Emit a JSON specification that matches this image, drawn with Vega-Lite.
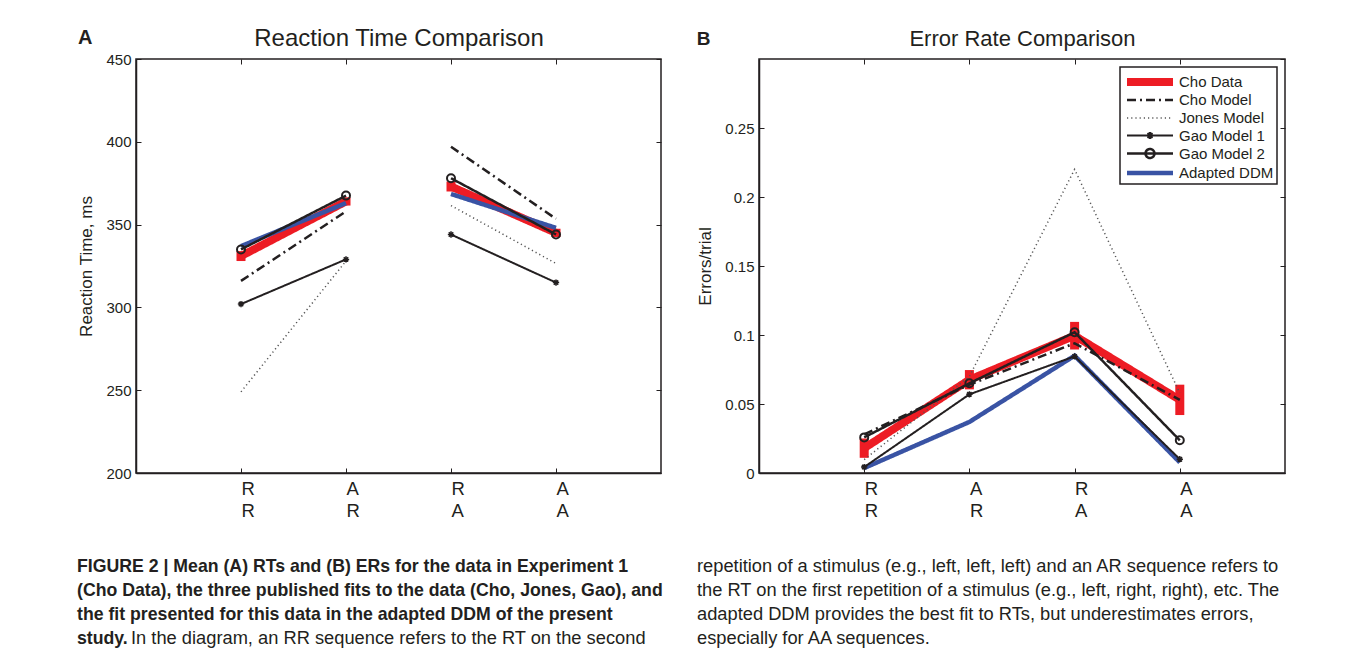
{
  "$schema": "https://vega.github.io/schema/vega-lite/v6.json",
  "background": "white",
  "padding": {"left": 77, "top": 25, "right": 0, "bottom": 0},
  "config": {
    "font": "Liberation Sans",
    "view": {"stroke": "#231f20", "strokeWidth": 1.5},
    "axis": {"grid": false, "domainColor": "#231f20", "domainWidth": 1.5, "tickColor": "#231f20", "tickWidth": 1, "tickSize": -5, "labelColor": "#231f20", "titleColor": "#231f20", "titleFontWeight": "normal"},
    "legend": {"strokeWidth": 1.5},
    "title": {"color": "#231f20"}
  },
  "datasets": {
    "rt": [
      {"series": "Cho Data", "cond": 1, "pair": "a", "v": 331, "lo": 328, "hi": 334},
      {"series": "Cho Data", "cond": 2, "pair": "a", "v": 364, "lo": 361.5, "hi": 366.5},
      {"series": "Cho Data", "cond": 3, "pair": "b", "v": 373, "lo": 370, "hi": 376},
      {"series": "Cho Data", "cond": 4, "pair": "b", "v": 345, "lo": 342.5, "hi": 347.5},
      {"series": "Adapted DDM", "cond": 1, "pair": "a", "v": 337},
      {"series": "Adapted DDM", "cond": 2, "pair": "a", "v": 363},
      {"series": "Adapted DDM", "cond": 3, "pair": "b", "v": 368.5},
      {"series": "Adapted DDM", "cond": 4, "pair": "b", "v": 348},
      {"series": "Cho Model", "cond": 1, "pair": "a", "v": 316},
      {"series": "Cho Model", "cond": 2, "pair": "a", "v": 358},
      {"series": "Cho Model", "cond": 3, "pair": "b", "v": 397},
      {"series": "Cho Model", "cond": 4, "pair": "b", "v": 353.5},
      {"series": "Jones Model", "cond": 1, "pair": "a", "v": 249},
      {"series": "Jones Model", "cond": 2, "pair": "a", "v": 328},
      {"series": "Jones Model", "cond": 3, "pair": "b", "v": 361.5},
      {"series": "Jones Model", "cond": 4, "pair": "b", "v": 326.5},
      {"series": "Gao Model 1", "cond": 1, "pair": "a", "v": 302},
      {"series": "Gao Model 1", "cond": 2, "pair": "a", "v": 329},
      {"series": "Gao Model 1", "cond": 3, "pair": "b", "v": 344},
      {"series": "Gao Model 1", "cond": 4, "pair": "b", "v": 315},
      {"series": "Gao Model 2", "cond": 1, "pair": "a", "v": 335},
      {"series": "Gao Model 2", "cond": 2, "pair": "a", "v": 367.5},
      {"series": "Gao Model 2", "cond": 3, "pair": "b", "v": 378},
      {"series": "Gao Model 2", "cond": 4, "pair": "b", "v": 344}
    ],
    "er": [
      {"series": "Cho Data", "cond": 1, "v": 0.018, "lo": 0.011, "hi": 0.025},
      {"series": "Cho Data", "cond": 2, "v": 0.0676, "lo": 0.0606, "hi": 0.0746},
      {"series": "Cho Data", "cond": 3, "v": 0.0995, "lo": 0.0895, "hi": 0.1095},
      {"series": "Cho Data", "cond": 4, "v": 0.053, "lo": 0.042, "hi": 0.064},
      {"series": "Adapted DDM", "cond": 1, "v": 0.0036},
      {"series": "Adapted DDM", "cond": 2, "v": 0.037},
      {"series": "Adapted DDM", "cond": 3, "v": 0.085},
      {"series": "Adapted DDM", "cond": 4, "v": 0.0077},
      {"series": "Cho Model", "cond": 1, "v": 0.028},
      {"series": "Cho Model", "cond": 2, "v": 0.064},
      {"series": "Cho Model", "cond": 3, "v": 0.094},
      {"series": "Cho Model", "cond": 4, "v": 0.053},
      {"series": "Jones Model", "cond": 1, "v": 0.0097},
      {"series": "Jones Model", "cond": 2, "v": 0.07},
      {"series": "Jones Model", "cond": 3, "v": 0.22},
      {"series": "Jones Model", "cond": 4, "v": 0.058},
      {"series": "Gao Model 1", "cond": 1, "v": 0.0043},
      {"series": "Gao Model 1", "cond": 2, "v": 0.057},
      {"series": "Gao Model 1", "cond": 3, "v": 0.0845},
      {"series": "Gao Model 1", "cond": 4, "v": 0.010},
      {"series": "Gao Model 2", "cond": 1, "v": 0.0258},
      {"series": "Gao Model 2", "cond": 2, "v": 0.065},
      {"series": "Gao Model 2", "cond": 3, "v": 0.102},
      {"series": "Gao Model 2", "cond": 4, "v": 0.0237}
    ],
    "cap": [
      {"col": 0, "line": 1, "style": "b", "text": "FIGURE 2 | Mean (A) RTs and (B) ERs for the data in Experiment 1"},
      {"col": 0, "line": 2, "style": "b", "text": "(Cho Data), the three published fits to the data (Cho, Jones, Gao), and"},
      {"col": 0, "line": 3, "style": "b", "text": "the fit presented for this data in the adapted DDM of the present"},
      {"col": 0, "line": 4, "style": "b", "text": "study."},
      {"col": 0, "line": 4, "style": "n2", "text": "In the diagram, an RR sequence refers to the RT on the second"},
      {"col": 1, "line": 1, "style": "n", "text": "repetition of a stimulus (e.g., left, left, left) and an AR sequence refers to"},
      {"col": 1, "line": 2, "style": "n", "text": "the RT on the first repetition of a stimulus (e.g., left, right, right), etc. The"},
      {"col": 1, "line": 3, "style": "n", "text": "adapted DDM provides the best fit to RTs, but underestimates errors,"},
      {"col": 1, "line": 4, "style": "n", "text": "especially for AA sequences."}
    ]
  },
  "spacing": 36,
  "vconcat": [
    {
      "hconcat": [
        {
          "width": 525,
          "height": 414,
          "title": {"text": "A", "anchor": "start", "frame": "bounds", "fontSize": 20, "fontWeight": "bold", "dy": 25},
          "data": {"name": "rt"},
          "layer": [
            {
              "transform": [{"filter": "datum.series === 'Cho Data'"}],
              "mark": {"type": "rule", "color": "#ED1C24", "strokeWidth": 9},
              "encoding": {
                "x": {"field": "cond", "type": "quantitative", "scale": {"domain": [0, 5], "nice": false, "zero": false}, "axis": null},
                "y": {"field": "lo", "type": "quantitative", "scale": {"domain": [200, 450], "nice": false, "zero": false}, "axis": null},
                "y2": {"field": "hi"}
              }
            },
            {
              "mark": {"type": "line"},
              "encoding": {
                "x": {"field": "cond", "type": "quantitative",
                  "axis": {"orient": "bottom", "values": [1, 2, 3, 4], "title": null, "labelAlign": "left", "labelBaseline": "top", "labelFontSize": 18.5, "labelLineHeight": 22, "labelPadding": 11,
                    "labelExpr": "datum.value == 1 ? ['R','R'] : datum.value == 2 ? ['A','R'] : datum.value == 3 ? ['R','A'] : ['A','A']"}},
                "y": {"field": "v", "type": "quantitative",
                  "axis": {"orient": "left", "values": [200, 250, 300, 350, 400, 450], "title": "Reaction Time, ms", "titleFontSize": 17, "titlePadding": 10, "labelFontSize": 15, "labelPadding": 10}},
                "detail": {"field": "pair"},
                "color": {"field": "series", "type": "nominal", "legend": null,
                  "scale": {"domain": ["Cho Data", "Cho Model", "Jones Model", "Gao Model 1", "Gao Model 2", "Adapted DDM"], "range": ["#ED1C24", "#231f20", "#555555", "#231f20", "#231f20", "#3953A4"]}},
                "strokeDash": {"field": "series", "type": "nominal", "legend": null,
                  "scale": {"domain": ["Cho Data", "Cho Model", "Jones Model", "Gao Model 1", "Gao Model 2", "Adapted DDM"], "range": [[1, 0], [9, 4, 2, 4], [1.2, 3], [1, 0], [1, 0], [1, 0]]}},
                "strokeWidth": {"field": "series", "type": "nominal", "legend": null,
                  "scale": {"type": "ordinal", "domain": ["Cho Data", "Cho Model", "Jones Model", "Gao Model 1", "Gao Model 2", "Adapted DDM"], "range": [8, 2.5, 1.5, 2, 2.5, 4.5]}}
              }
            },
            {
              "transform": [{"filter": "datum.series === 'Gao Model 1'"}],
              "mark": {"type": "point", "shape": "M-1,0L1,0M0,-1L0,1M-0.7,-0.7L0.7,0.7M-0.7,0.7L0.7,-0.7", "size": 40, "filled": false, "color": "#231f20", "strokeWidth": 1.5, "opacity": 1},
              "encoding": {
                "x": {"field": "cond", "type": "quantitative", "axis": null},
                "y": {"field": "v", "type": "quantitative", "axis": null}
              }
            },
            {
              "transform": [{"filter": "datum.series === 'Gao Model 2'"}],
              "mark": {"type": "point", "shape": "circle", "size": 64, "filled": false, "color": "#231f20", "strokeWidth": 2, "opacity": 1},
              "encoding": {
                "x": {"field": "cond", "type": "quantitative",
                  "axis": {"orient": "top", "values": [1, 2, 3, 4], "labels": false, "domain": false, "title": "Reaction Time Comparison", "titleFontSize": 24, "titlePadding": 8}},
                "y": {"field": "v", "type": "quantitative",
                  "axis": {"orient": "right", "values": [200, 250, 300, 350, 400, 450], "labels": false, "domain": false, "title": null}}
              }
            }
          ],
          "resolve": {"axis": {"x": "independent", "y": "independent"}}
        },
        {
          "width": 526,
          "height": 414,
          "title": {"text": "B", "anchor": "start", "frame": "bounds", "fontSize": 19, "fontWeight": "bold", "dy": 25},
          "data": {"name": "er"},
          "layer": [
            {
              "transform": [{"filter": "datum.series === 'Cho Data'"}],
              "mark": {"type": "rule", "color": "#ED1C24", "strokeWidth": 9},
              "encoding": {
                "x": {"field": "cond", "type": "quantitative", "scale": {"domain": [0, 5], "nice": false, "zero": false}, "axis": null},
                "y": {"field": "lo", "type": "quantitative", "scale": {"domain": [0, 0.3], "nice": false, "zero": false}, "axis": null},
                "y2": {"field": "hi"}
              }
            },
            {
              "mark": {"type": "line"},
              "encoding": {
                "x": {"field": "cond", "type": "quantitative",
                  "axis": {"orient": "bottom", "values": [1, 2, 3, 4], "title": null, "labelAlign": "left", "labelBaseline": "top", "labelFontSize": 18.5, "labelLineHeight": 22, "labelPadding": 11,
                    "labelExpr": "datum.value == 1 ? ['R','R'] : datum.value == 2 ? ['A','R'] : datum.value == 3 ? ['R','A'] : ['A','A']"}},
                "y": {"field": "v", "type": "quantitative",
                  "axis": {"orient": "left", "values": [0, 0.05, 0.1, 0.15, 0.2, 0.25], "format": "~g", "title": "Errors/trial", "titleFontSize": 17, "titlePadding": 10, "labelFontSize": 15, "labelPadding": 10}},
                "color": {"field": "series", "type": "nominal",
                  "scale": {"domain": ["Cho Data", "Cho Model", "Jones Model", "Gao Model 1", "Gao Model 2", "Adapted DDM"], "range": ["#ED1C24", "#231f20", "#555555", "#231f20", "#231f20", "#3953A4"]},
                  "legend": {"title": null, "orient": "top-right", "offset": 8, "padding": 3, "strokeColor": "#231f20", "fillColor": "white", "symbolSize": 256, "labelFontSize": 15, "labelOffset": 32, "rowPadding": 0.5, "labelColor": "#231f20",
                    "encode": {"symbols": {"update": {
                      "shape": {"signal": "datum.value === 'Gao Model 1' ? 'M-1,0H4.75M1.44,0H2.31M1.875,-0.44V0.44M1.57,-0.31L2.18,0.31M1.57,0.31L2.18,-0.31' : datum.value === 'Gao Model 2' ? 'M-1,0H4.75M1.3125,0a0.5625,0.5625 0 1,0 1.125,0a0.5625,0.5625 0 1,0 -1.125,0' : 'M-1,0H4.75'"},
                      "strokeJoin": {"value": "bevel"},
                      "strokeWidth": {"signal": "datum.value === 'Cho Data' ? 8 : datum.value === 'Adapted DDM' ? 4.5 : datum.value === 'Jones Model' ? 1.5 : 2.5"}}}}}},
                "strokeDash": {"field": "series", "type": "nominal",
                  "scale": {"domain": ["Cho Data", "Cho Model", "Jones Model", "Gao Model 1", "Gao Model 2", "Adapted DDM"], "range": [[1, 0], [9, 4, 2, 4], [1.2, 3], [1, 0], [1, 0], [1, 0]]},
                  "legend": {"title": null, "orient": "top-right", "offset": 8, "padding": 3, "strokeColor": "#231f20", "fillColor": "white", "symbolSize": 256, "labelFontSize": 15, "labelOffset": 32, "rowPadding": 0.5, "labelColor": "#231f20"}},
                "strokeWidth": {"field": "series", "type": "nominal", "legend": null,
                  "scale": {"type": "ordinal", "domain": ["Cho Data", "Cho Model", "Jones Model", "Gao Model 1", "Gao Model 2", "Adapted DDM"], "range": [8, 2.5, 1.5, 2, 2.5, 4.5]}}
              }
            },
            {
              "transform": [{"filter": "datum.series === 'Gao Model 1'"}],
              "mark": {"type": "point", "shape": "M-1,0L1,0M0,-1L0,1M-0.7,-0.7L0.7,0.7M-0.7,0.7L0.7,-0.7", "size": 40, "filled": false, "color": "#231f20", "strokeWidth": 1.5, "opacity": 1},
              "encoding": {
                "x": {"field": "cond", "type": "quantitative", "axis": null},
                "y": {"field": "v", "type": "quantitative", "axis": null}
              }
            },
            {
              "transform": [{"filter": "datum.series === 'Gao Model 2'"}],
              "mark": {"type": "point", "shape": "circle", "size": 64, "filled": false, "color": "#231f20", "strokeWidth": 2, "opacity": 1},
              "encoding": {
                "x": {"field": "cond", "type": "quantitative",
                  "axis": {"orient": "top", "values": [1, 2, 3, 4], "labels": false, "domain": false, "title": "Error Rate Comparison", "titleFontSize": 22, "titlePadding": 8}},
                "y": {"field": "v", "type": "quantitative",
                  "axis": {"orient": "right", "values": [0, 0.05, 0.1, 0.15, 0.2, 0.25, 0.3], "labels": false, "domain": false, "title": null}}
              }
            }
          ],
          "resolve": {"axis": {"x": "independent", "y": "independent"}}
        }
      ],
      "spacing": 33,
      "resolve": {
        "scale": {"color": "independent", "strokeDash": "independent", "strokeWidth": "independent"},
        "legend": {"color": "independent", "strokeDash": "independent", "strokeWidth": "independent"}
      }
    },
    {
      "width": 620,
      "height": 72,
      "data": {"name": "cap"},
      "encoding": {
        "x": {"field": "col", "type": "quantitative", "scale": {"domain": [0.09516, 1.09516], "nice": false, "zero": false}, "axis": null},
        "y": {"field": "line", "type": "quantitative", "scale": {"domain": [4, 1], "nice": false, "zero": false}, "axis": null},
        "text": {"field": "text"}
      },
      "layer": [
        {"transform": [{"filter": "datum.style === 'b'"}], "mark": {"type": "text", "align": "left", "baseline": "middle", "fontSize": 17.7, "fontWeight": "bold", "color": "#231f20"}},
        {"transform": [{"filter": "datum.style === 'n'"}], "mark": {"type": "text", "align": "left", "baseline": "middle", "fontSize": 18.3, "color": "#231f20"}},
        {"transform": [{"filter": "datum.style === 'n2'"}], "mark": {"type": "text", "align": "left", "baseline": "middle", "fontSize": 18.3, "dx": 54, "color": "#231f20"}}
      ],
      "view": {"stroke": null}
    }
  ]
}
